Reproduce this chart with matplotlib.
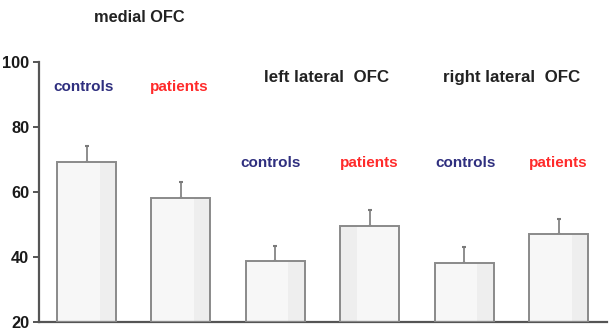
import numpy as np
import matplotlib.pyplot as plt

# bar values
groups = ["medial OFC", "left lateral  OFC", "right lateral  OFC"]
labels = ["controls", "patients", "controls", "patients", "controls", "patients"]
means = [69.2, 58.2, 38.8, 49.5, 38.2, 47.1]
errs = [5.0, 4.9, 4.6, 5.0, 4.9, 4.6]
yticks = [20, 40, 60, 80, 100]

# which side of each bar carries the slightly darker shading
shade_side = [1, 1, 1, -1, 1, 1]

navy = "#2f2f7f"
red = "#ff2b2b"
edge = "#8a8a8a"

fig = plt.figure(figsize=(6.11, 3.33), dpi=100)
ax = fig.add_axes([39 / 611, 11 / 333, 568 / 611, 260 / 333])

x = np.arange(len(means))
w = 0.625
ax.bar(x, np.array(means) - 20, bottom=20, width=w, color="#f7f7f7",
       edgecolor="none", zorder=2)
# darker strip for the faint shading
sw = w * 0.28
for xi, m, s in zip(x, means, shade_side):
    ax.bar(xi + s * (w / 2 - sw / 2), m - 20, bottom=20, width=sw,
           color="#eeeeee", edgecolor="none", zorder=2)
ax.bar(x, np.array(means) - 20, bottom=20, width=w, color="none",
       edgecolor=edge, linewidth=1.4, zorder=3)
ax.errorbar(x, means, yerr=[np.zeros(len(errs)), errs], fmt="none",
            ecolor="#7a7a7a", elinewidth=1.2, capsize=1.2, capthick=1.5,
            zorder=1)

ax.set_xlim(-0.503, 5.51)
ax.set_ylim(20, 100)
ax.set_yticks(yticks)
ax.set_yticklabels([str(t) for t in yticks], fontsize=11.8, fontweight="bold",
                   family="Liberation Sans", color="#1a1a1a")
ax.set_xticks([])
for side in ["top", "right"]:
    ax.spines[side].set_visible(False)
for side in ["left", "bottom"]:
    ax.spines[side].set_color("#555555")
    ax.spines[side].set_linewidth(1.6)
ax.tick_params(axis="y", length=4, width=1.4, color="#555555", pad=3)

font = dict(family="Liberation Sans", fontweight="bold")

# group titles
ax.text(0.555, 113.6, groups[0], ha="center", va="center", fontsize=11.8,
        color="#222222", clip_on=False, **font)
ax.text(2.545, 95.2, groups[1], ha="center", va="center", fontsize=12.2,
        color="#222222", **font)
ax.text(4.5, 95.2, groups[2], ha="center", va="center", fontsize=12.2,
        color="#222222", **font)

# controls / patients labels
label_y = [92.3, 92.3, 68.9, 68.9, 68.9, 68.9]
label_x = [-0.03, 0.98, 1.95, 2.99, 4.01, 4.99]
for lx, ly, lab in zip(label_x, label_y, labels):
    ax.text(lx, ly, lab, ha="center", va="center", fontsize=11,
            color=navy if lab == "controls" else red, **font)

fig.savefig("out.png", dpi=100, facecolor="white")
